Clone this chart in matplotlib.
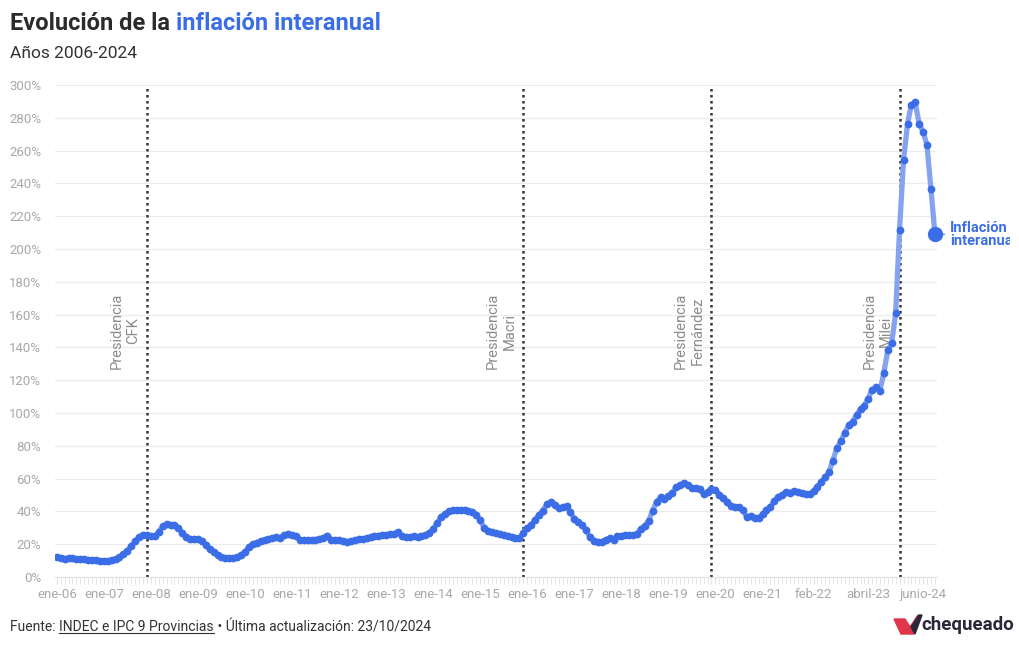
import matplotlib
matplotlib.use("Agg")
import matplotlib.pyplot as plt
import matplotlib.dates as mdates
from matplotlib.patches import Polygon
from matplotlib.transforms import Bbox, TransformedBbox
import numpy as np
import pandas as pd

plt.rcParams['font.family'] = ['Roboto', 'DejaVu Sans']

# inflación interanual (%), mensual desde ene-2006
infl_2006 = [12.1, 11.7, 11.1, 11.6, 11.5, 11.0, 10.9, 10.7, 10.5, 10.5, 10.4, 9.8]
infl_2007 = [9.8, 10.0, 10.4, 11.0, 12.0, 13.8, 16.0, 19.0, 22.0, 24.5, 25.6, 25.4]
infl_2008 = [25.2, 25.0, 27.5, 31.0, 32.3, 31.8, 31.6, 30.0, 27.0, 24.5, 23.2, 23.2]
infl_2009 = [23.0, 22.0, 19.5, 17.0, 15.0, 13.5, 12.3, 11.8, 11.6, 11.8, 12.2, 13.5]
infl_2010 = [15.5, 18.5, 20.2, 21.0, 22.0, 22.8, 23.2, 23.8, 24.2, 24.0, 25.5, 26.5]
infl_2011 = [25.8, 25.0, 22.8, 22.6, 22.4, 22.5, 22.8, 23.2, 24.0, 25.3, 22.8, 22.5]
infl_2012 = [22.3, 22.0, 21.6, 21.9, 22.5, 23.0, 23.3, 23.6, 24.5, 25.2, 25.3, 25.5]
infl_2013 = [25.6, 26.0, 26.5, 27.3, 25.0, 24.5, 24.4, 24.7, 24.6, 24.9, 25.5, 27.0]
infl_2014 = [29.5, 33.0, 36.5, 38.5, 40.0, 40.6, 40.8, 40.6, 40.9, 40.5, 39.8, 38.0]
infl_2015 = [34.5, 30.0, 28.3, 27.5, 26.8, 26.0, 25.5, 25.0, 24.5, 24.0, 23.8, 27.0]
infl_2016 = [30.0, 32.0, 35.0, 38.0, 40.5, 44.5, 45.5, 44.0, 42.0, 42.5, 43.0, 39.5]
infl_2017 = [35.5, 33.5, 31.5, 28.5, 24.5, 22.0, 21.2, 21.5, 22.8, 23.5, 22.5, 24.8]
infl_2018 = [25.0, 25.4, 25.4, 25.5, 26.3, 29.5, 31.2, 34.4, 40.5, 45.9, 48.5, 47.6]
infl_2019 = [49.3, 51.3, 54.7, 55.8, 57.3, 55.8, 54.4, 54.5, 53.5, 50.5, 52.1, 53.8]
infl_2020 = [52.9, 50.3, 48.4, 45.6, 43.4, 42.8, 42.4, 40.7, 36.6, 37.2, 35.8, 36.1]
infl_2021 = [38.5, 40.7, 42.6, 46.3, 48.8, 50.2, 51.8, 51.4, 52.5, 52.1, 51.2, 50.9]
infl_2022 = [50.7, 52.3, 55.1, 58.0, 60.7, 64.0, 71.0, 78.5, 83.0, 88.0, 92.4, 94.8]
infl_2023 = [98.8, 102.5, 104.3, 108.8, 114.2, 115.6, 113.4, 124.4, 138.3, 142.7, 160.9, 211.4]
infl_2024 = [254.2, 276.2, 287.9, 289.4, 276.4, 271.5, 263.4, 236.7, 209.0]

inflacion = (infl_2006 + infl_2007 + infl_2008 + infl_2009 + infl_2010 + infl_2011
             + infl_2012 + infl_2013 + infl_2014 + infl_2015 + infl_2016 + infl_2017
             + infl_2018 + infl_2019 + infl_2020 + infl_2021 + infl_2022 + infl_2023
             + infl_2024)
meses = pd.date_range('2006-01-01', periods=len(inflacion), freq='MS')

tick_fechas = ['2006-01-01', '2007-01-01', '2008-01-01', '2009-01-01', '2010-01-01',
               '2011-01-01', '2012-01-01', '2013-01-01', '2014-01-01', '2015-01-01',
               '2016-01-01', '2017-01-01', '2018-01-01', '2019-01-01', '2020-01-01',
               '2021-01-01', '2022-02-01', '2023-04-01', '2024-06-01']
tick_labels = ['ene-06', 'ene-07', 'ene-08', 'ene-09', 'ene-10', 'ene-11', 'ene-12',
               'ene-13', 'ene-14', 'ene-15', 'ene-16', 'ene-17', 'ene-18', 'ene-19',
               'ene-20', 'ene-21', 'feb-22', 'abril-23', 'junio-24']

presidencias = ['CFK', 'Macri', 'Fernández', 'Milei']
inicio_presidencias = ['2007-12-01', '2015-12-01', '2019-12-01', '2023-12-01']

y_ticks = list(range(0, 301, 20))

AZUL = '#3b6ee6'
AZUL_CLARO = '#86a3f0'
GRIS = '#a8a8a8'

W, H = 1020, 650
fig = plt.figure(figsize=(W / 100, H / 100), dpi=100)
ax = fig.add_axes([55 / W, (H - 577) / H, (937 - 55) / W, (577 - 85) / H])

ax.plot(meses, inflacion, color=AZUL_CLARO, lw=3.8, solid_capstyle='round', zorder=3)
ax.plot(meses, inflacion, 'o', color=AZUL, ms=5.6, mec='none', zorder=4)
ax.plot(meses[-1], inflacion[-1], 'o', color=AZUL, ms=11, mec='none', zorder=5, clip_on=False)
etiqueta = ax.annotate('Inflación\ninteranual', xy=(meses[-1], inflacion[-1]), xytext=(11, 0),
                       textcoords='offset points', ha='left', va='center', color=AZUL,
                       fontsize=10.5, fontweight='bold', linespacing=0.95,
                       annotation_clip=False,
                       arrowprops=dict(arrowstyle='-', color=AZUL, lw=0.8, shrinkA=2, shrinkB=7))
etiqueta.set_clip_on(True)
etiqueta.set_clip_box(TransformedBbox(Bbox([[0, 0], [1010 / W, 1]]), fig.transFigure))

for nombre, fecha in zip(presidencias, inicio_presidencias):
    f = pd.Timestamp(fecha)
    ax.axvline(f, color='#333333', ls=(0, (1, 1.4)), lw=1.8, zorder=2)
    ax.annotate('Presidencia\n' + nombre, xy=(f, 150), xytext=(-5, 0),
                textcoords='offset points', rotation=90, ha='right', va='center',
                multialignment='center', color='#8c8c8c', fontsize=10.5, linespacing=1.2)

ax.set_ylim(0, 300)
ax.set_xlim(meses[0] - pd.Timedelta(days=15), meses[-1] + pd.Timedelta(days=16))
ax.set_yticks(y_ticks)
ax.set_yticklabels([f'{v}%' for v in y_ticks])
ax.set_xticks(pd.to_datetime(tick_fechas))
ax.set_xticklabels(tick_labels)
ax.xaxis.set_minor_locator(mdates.MonthLocator())

ax.grid(axis='y', color='#ececec', lw=0.9)
ax.set_axisbelow(True)
for s in ['top', 'right', 'left']:
    ax.spines[s].set_visible(False)
ax.spines['bottom'].set_color('#e3e3e3')
ax.tick_params(axis='y', length=0, pad=10, labelsize=9.5, labelcolor=GRIS)
ax.tick_params(axis='x', which='both', length=5, color='#e3e3e3', pad=3,
               labelsize=9.5, labelcolor=GRIS)

# titulos
t1 = fig.text(10 / W, 1 - 23 / H, 'Evolución de la ', fontsize=17, fontweight='bold',
              color='#2b2b2b', va='center', ha='left')
fig.canvas.draw()
r = fig.canvas.get_renderer()
bb = t1.get_window_extent(r)
fig.text(bb.x1 / W, 1 - 23 / H, 'inflación interanual', fontsize=17, fontweight='bold',
         color=AZUL, va='center', ha='left')
fig.text(10 / W, 1 - 53 / H, 'Años 2006-2024', fontsize=12.5, color='#333333',
         va='center', ha='left')

# pie
yf = 1 - 627 / H
p1 = fig.text(10 / W, yf, 'Fuente: ', fontsize=10, color='#333333', va='center')
fig.canvas.draw()
x = p1.get_window_extent(r).x1
p2 = fig.text(x / W, yf, 'INDEC e IPC 9 Provincias', fontsize=10, color='#333333', va='center')
fig.canvas.draw()
b2 = p2.get_window_extent(r)
fig.add_artist(plt.Line2D([b2.x0 / W, b2.x1 / W], [(b2.y0 + 1) / H] * 2,
                          color='#333333', lw=0.8))
fig.text(b2.x1 / W, yf, ' • Última actualización: 23/10/2024', fontsize=10,
         color='#333333', va='center')

# logo
def px(pts):
    return [(a / W, 1 - b / H) for a, b in pts]

fig.add_artist(Polygon(px([(894, 619), (905, 619), (910, 627), (918, 615), (914, 634), (901, 634)]),
                       closed=True, color='#e0364b', transform=fig.transFigure))
fig.add_artist(Polygon(px([(911, 627), (919, 615), (922, 615), (915, 634)]),
                       closed=True, color='#2a2838', transform=fig.transFigure))
fig.text(921 / W, 1 - 625 / H, 'chequeado', fontsize=13.5, fontweight='bold',
         color='#2a2838', va='center', ha='left')

fig.savefig('out.png', dpi=100)
